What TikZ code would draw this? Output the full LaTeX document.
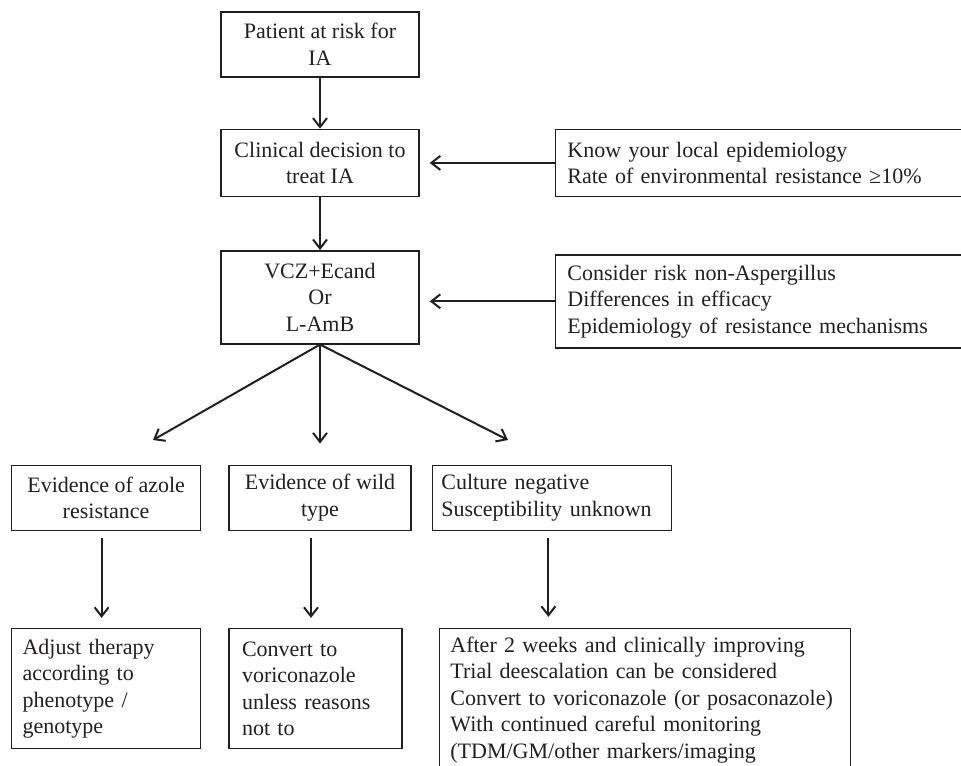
\documentclass[tikz,border=0pt]{standalone}
\usepackage{fontspec}
\setmainfont{Liberation Serif}
\usetikzlibrary{positioning,arrows.meta}
\definecolor{inkBlack}{HTML}{231F20}

\begin{document}
\begin{tikzpicture}[
    x=0.5pt, y=-0.5pt,
    font=\fontsize{11}{13.25}\selectfont,
    box/.style={
        draw=inkBlack,
        line width=0.7pt,
        align=center,
        inner sep=0pt,
        text=inkBlack
    },
    notebox/.style={
        box,
        align=left,
        inner xsep=6pt,
        text width=198pt
    },
    arrow/.style={
        -{Straight Barb[length=4.5pt,width=7pt]},
        line width=1pt,
        draw=inkBlack
    }
]
\useasboundingbox (0,0) rectangle (961,765);
\clip (0,0) rectangle (961,765);

% main column
\node[box, minimum width=99pt, minimum height=32.5pt] (risk) at (320,44.5) {Patient at risk for\\IA};
\node[box, minimum width=99pt, minimum height=33.5pt, below=25.5pt of risk] (treat) {Clinical decision to\\treat IA};
\node[box, minimum width=99pt, minimum height=46.5pt, below=26.5pt of treat] (therapy) {VCZ+Ecand\\Or\\L-AmB};

% side notes
\node[notebox, minimum height=33.5pt, right=67.5pt of treat] (localepi) {Know your local epidemiology\\Rate of environmental resistance ≥10\%};
\node[notebox, minimum height=46.5pt, right=67.5pt of therapy, yshift=-2pt] (riskmech) {Consider risk non-Aspergillus\\Differences in efficacy\\Epidemiology of resistance mechanisms};

% outcomes
\node[box, minimum width=91pt, minimum height=32.5pt, below=60pt of therapy] (wild) {Evidence of wild\\type};
\node[box, minimum width=94.5pt, minimum height=32.5pt, left=13.5pt of wild] (resist) {Evidence of azole\\resistance};
\node[box, align=left, inner xsep=4.5pt, text width=110.5pt, minimum height=32.5pt, right=10pt of wild] (culture) {Culture negative\\Susceptibility unknown};

% actions
\node[box, align=left, inner xsep=5.5pt, text width=83.5pt, minimum height=60pt, below=48.5pt of resist] (adjust) {Adjust therapy\\according to\\phenotype /\\genotype};
\node[box, align=left, inner xsep=6.5pt, text width=73.5pt, minimum height=60pt, below=48.5pt of wild.south west, anchor=north west] (convert) {Convert to\\voriconazole\\unless reasons\\not to};
\node[box, align=left, inner xsep=5.5pt, inner ysep=4pt, text width=194.5pt, below=48.5pt of culture.south west, anchor=north west, xshift=3.5pt] (deesc) {After 2 weeks and clinically improving\\Trial deescalation can be considered\\Convert to voriconazole (or posaconazole)\\With continued careful monitoring\\(TDM/GM/other markers/imaging};

\coordinate (toresist) at (153,440);
\coordinate (toculture) at (508,440);

\draw[arrow] (risk) -- (treat);
\draw[arrow] (treat) -- (therapy);
\draw[arrow, shorten >=5pt] (localepi) -- (treat);
\draw[arrow, shorten >=5pt] (riskmech.west) -- (riskmech.west -| therapy.east);
\draw[arrow] (therapy.south) -- (toresist);
\draw[arrow, shorten >=10.5pt] (therapy.south) -- (wild.north -| therapy.south);
\draw[arrow] (therapy.south) -- (toculture);
\draw[arrow, shorten <=3.5pt, shorten >=5pt] ([xshift=-2.25pt]resist.south) -- ([xshift=-2.25pt]resist.south |- adjust.north);
\draw[arrow, shorten <=3.5pt, shorten >=5pt] ([xshift=-4.5pt]wild.south) -- ([xshift=-4.5pt]wild.south |- convert.north);
\draw[arrow, shorten <=3.5pt, shorten >=5.5pt] ([xshift=-1.75pt]culture.south) -- ([xshift=-1.75pt]culture.south |- deesc.north);
\end{tikzpicture}
\end{document}
